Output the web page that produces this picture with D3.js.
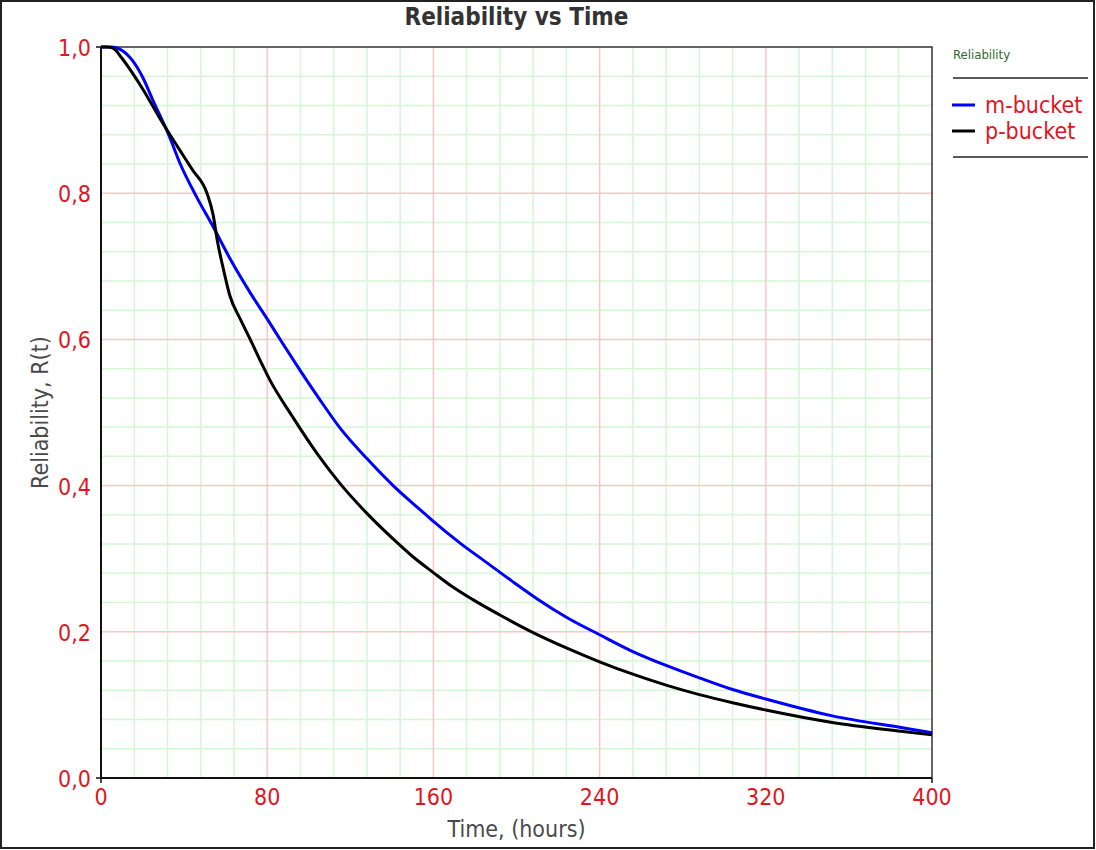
<!DOCTYPE html>
<html>
<head>
<meta charset="utf-8">
<script src="https://cdn.jsdelivr.net/npm/d3@7"></script>
<style>
  body { margin: 0; background: #fff; }
  svg text { font-family: "DejaVu Sans Condensed", "DejaVu Sans", sans-serif; font-stretch: condensed; }
</style>
</head>
<body>
<svg id="chart" width="1096" height="850"></svg>
<script>
// Reliability vs Time

// m-bucket (blue)
var mTime = [0, 5, 9, 15, 20, 25, 33, 38, 46, 54, 62, 72, 80, 88, 96, 105, 115, 128, 141, 154, 160, 173, 186, 198, 210, 224, 240, 256, 272, 288, 304, 320, 352, 385, 400];
var mRel  = [1.0, 1.0, 0.997, 0.982, 0.959, 0.927, 0.877, 0.841, 0.795, 0.754, 0.711, 0.663, 0.628, 0.592, 0.557, 0.519, 0.479, 0.437, 0.399, 0.366, 0.351, 0.321, 0.294, 0.269, 0.245, 0.220, 0.196, 0.173, 0.154, 0.137, 0.121, 0.108, 0.085, 0.069, 0.062];

// p-bucket (black)
var pTime = [0, 3, 6, 10, 15, 20, 28, 37, 44, 51, 54, 56, 59, 62, 67, 72, 77, 81, 92, 105, 115, 128, 141, 150, 160, 169, 179, 192, 208, 224, 240, 256, 272, 288, 304, 320, 352, 385, 400];
var pRel  = [1.0, 1.0, 0.998, 0.985, 0.965, 0.943, 0.904, 0.863, 0.832, 0.800, 0.770, 0.735, 0.695, 0.660, 0.628, 0.599, 0.569, 0.546, 0.495, 0.440, 0.403, 0.362, 0.326, 0.303, 0.281, 0.262, 0.244, 0.223, 0.199, 0.178, 0.159, 0.142, 0.127, 0.114, 0.103, 0.093, 0.076, 0.064, 0.059];

var seriesNames = ['m-bucket', 'p-bucket'];
var xTicks = [0, 80, 160, 240, 320, 400];
var yTicks = [0, 0.2, 0.4, 0.6, 0.8, 1.0];

var svg = d3.select('#chart');
var plotLeft = 101, plotRight = 932, plotTop = 47, plotBottom = 778;

var x = d3.scaleLinear().domain([0, 400]).range([plotLeft, plotRight]);
var y = d3.scaleLinear().domain([0, 1]).range([plotBottom, plotTop]);

var red = '#e4141e';

// outer frame
svg.append('rect')
  .attr('x', 1).attr('y', 1).attr('width', 1093).attr('height', 847)
  .attr('fill', '#fff').attr('stroke', '#222').attr('stroke-width', 2);

// minor grid (green)
var gx = d3.range(0, 401, 16).filter(function(d){ return d % 80 != 0; });
var gy = d3.range(0, 1.0001, 0.04).filter(function(d){ return Math.abs(d*5 - Math.round(d*5)) > 0.01; });

svg.append('g').selectAll('line').data(gx).enter().append('line')
  .attr('x1', function(d){ return x(d); }).attr('x2', function(d){ return x(d); })
  .attr('y1', plotTop).attr('y2', plotBottom)
  .attr('stroke', '#d4f7d4').attr('stroke-width', 1.5);
svg.append('g').selectAll('line').data(gy).enter().append('line')
  .attr('y1', function(d){ return y(d); }).attr('y2', function(d){ return y(d); })
  .attr('x1', plotLeft).attr('x2', plotRight)
  .attr('stroke', '#d4f7d4').attr('stroke-width', 1.5);

// major grid (pink)
svg.append('g').selectAll('line').data(xTicks.slice(1, -1)).enter().append('line')
  .attr('x1', function(d){ return x(d); }).attr('x2', function(d){ return x(d); })
  .attr('y1', plotTop).attr('y2', plotBottom)
  .attr('stroke', '#ffc4c4').attr('stroke-width', 1.5);
svg.append('g').selectAll('line').data(yTicks.slice(1, -1)).enter().append('line')
  .attr('y1', function(d){ return y(d); }).attr('y2', function(d){ return y(d); })
  .attr('x1', plotLeft).attr('x2', plotRight)
  .attr('stroke', '#ffc4c4').attr('stroke-width', 1.5);

// plot frame
svg.append('path')
  .attr('d', 'M' + plotLeft + ',' + plotTop + 'H' + plotRight + 'V' + plotBottom)
  .attr('fill', 'none').attr('stroke', '#333').attr('stroke-width', 1.5);
svg.append('path')
  .attr('d', 'M' + plotLeft + ',' + plotTop + 'V' + plotBottom + 'H' + plotRight)
  .attr('fill', 'none').attr('stroke', '#111').attr('stroke-width', 2);

// corner ticks
svg.append('path')
  .attr('d', 'M' + (plotLeft-5) + ',' + plotTop + 'H' + plotLeft +
             'M' + (plotLeft-5) + ',' + plotBottom + 'H' + plotLeft +
             'M' + plotLeft + ',' + plotBottom + 'V' + (plotBottom+5) +
             'M' + plotRight + ',' + plotBottom + 'V' + (plotBottom+5))
  .attr('stroke', '#111').attr('stroke-width', 1.5);

// tick labels
svg.append('g').selectAll('text').data(yTicks).enter().append('text')
  .attr('x', 91).attr('y', function(d){ return y(d) + 9; })
  .attr('text-anchor', 'end')
  .attr('fill', red).style('font-size', '23px')
  .text(function(d){ return d3.format('.1f')(d).replace('.', ','); });

svg.append('g').selectAll('text').data(xTicks).enter().append('text')
  .attr('x', function(d){ return x(d); }).attr('y', 805)
  .attr('text-anchor', 'middle')
  .attr('fill', red).style('font-size', '23px')
  .text(function(d){ return d; });

// axis titles
svg.append('text')
  .attr('x', (plotLeft + plotRight) / 2).attr('y', 837)
  .attr('text-anchor', 'middle').attr('fill', '#4a4a4a')
  .style('font-size', '23px')
  .text('Time, (hours)');

svg.append('text')
  .attr('transform', 'translate(48,' + ((plotTop + plotBottom) / 2) + ') rotate(-90)')
  .attr('text-anchor', 'middle').attr('fill', '#4a4a4a')
  .style('font-size', '23px')
  .text('Reliability, R(t)');

// title
svg.append('text')
  .attr('x', (plotLeft + plotRight) / 2).attr('y', 25)
  .attr('text-anchor', 'middle').attr('fill', '#333')
  .style('font-size', '24px').style('font-weight', 'bold')
  .text('Reliability vs Time');

// curves
svg.append('clipPath').attr('id', 'plotclip')
  .append('rect').attr('x', plotLeft).attr('y', plotTop - 3)
  .attr('width', plotRight - plotLeft + 2).attr('height', plotBottom - plotTop + 3);

var line = d3.line()
  .x(function(d){ return x(d[0]); })
  .y(function(d){ return y(d[1]); })
  .curve(d3.curveMonotoneX);

var mData = d3.zip(mTime, mRel);
var pData = d3.zip(pTime, pRel);

svg.append('path').datum(mData)
  .attr('clip-path', 'url(#plotclip)')
  .attr('d', line).attr('fill', 'none')
  .attr('stroke', '#0000ff').attr('stroke-width', 3);

svg.append('path').datum(pData)
  .attr('clip-path', 'url(#plotclip)')
  .attr('d', line).attr('fill', 'none')
  .attr('stroke', '#000').attr('stroke-width', 3);

// legend
var lg = svg.append('g');
lg.append('text').attr('x', 953).attr('y', 59)
  .attr('fill', '#2f6a2f').style('font-size', '13px')
  .text('Reliability');
lg.append('line').attr('x1', 953).attr('x2', 1088).attr('y1', 78).attr('y2', 78)
  .attr('stroke', '#222').attr('stroke-width', 1.5);
lg.append('line').attr('x1', 953).attr('x2', 1088).attr('y1', 157).attr('y2', 157)
  .attr('stroke', '#222').attr('stroke-width', 1.5);

var legendColors = ['#0000ff', '#000'];
seriesNames.forEach(function(name, i){
  var ly = 105 + i * 26;
  lg.append('line').attr('x1', 952).attr('x2', 975).attr('y1', ly).attr('y2', ly)
    .attr('stroke', legendColors[i]).attr('stroke-width', 3);
  lg.append('text').attr('x', 985).attr('y', ly + 8)
    .attr('fill', red).style('font-size', '23px')
    .text(name);
});
</script>
</body>
</html>
